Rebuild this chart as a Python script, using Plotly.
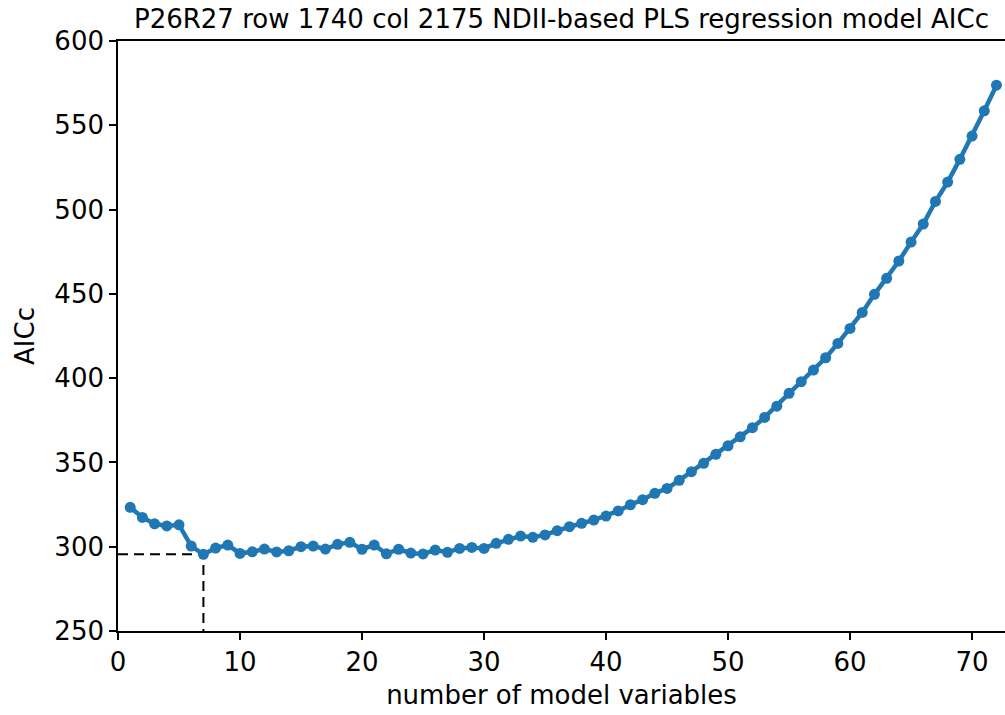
import plotly.graph_objects as go

# AICc of the PLS regression model versus number of retained variables
n_vars = list(range(1, 73))
aicc = [
    323.4, 317.4, 313.6, 312.3, 313.0, 300.4, 295.5, 299.2, 301.0, 296.0,
    297.0, 298.6, 296.9, 297.6, 300.0, 300.4, 298.6, 301.4, 302.6, 298.5,
    301.0, 295.8, 298.5, 296.2, 295.7, 298.0, 296.7, 299.0, 299.6, 299.0,
    302.0, 304.4, 306.3, 305.6, 307.0, 309.5, 311.9, 313.9, 315.8, 318.2,
    321.2, 324.9, 327.9, 331.7, 334.6, 339.4, 344.5, 349.5, 354.8, 359.9,
    365.2, 370.6, 376.7, 383.4, 391.0, 397.9, 404.8, 412.1, 420.6, 429.5,
    439.0, 449.7, 459.2, 469.5, 480.7, 491.4, 504.8, 516.3, 529.8, 543.6,
    558.6, 573.8,
]
selected_n = 7
x_ticks = [0, 10, 20, 30, 40, 50, 60, 70]
y_ticks = [250, 300, 350, 400, 450, 500, 550, 600]

x_range = [0, 72.7]
y_range = [250, 600]
selected_aicc = aicc[n_vars.index(selected_n)]

font_family = "DejaVu Sans"
blue = "#1f77b4"
fs = 26

fig = go.Figure()

# dashed guides marking the selected model size
fig.add_trace(go.Scatter(
    x=[x_range[0], selected_n, selected_n],
    y=[selected_aicc, selected_aicc, y_range[0]],
    mode="lines",
    line=dict(color="black", width=2, dash="10px,6px"),
    hoverinfo="skip",
    showlegend=False,
))

fig.add_trace(go.Scatter(
    x=n_vars,
    y=aicc,
    mode="lines+markers",
    line=dict(color=blue, width=4.5),
    marker=dict(color=blue, size=11),
    cliponaxis=False,
    showlegend=False,
))

fig.update_layout(
    width=1005,
    height=715,
    margin=dict(l=118, r=0, t=41, b=84),
    paper_bgcolor="white",
    plot_bgcolor="white",
    font=dict(family=font_family, size=fs, color="black"),
    title=dict(
        text="P26R27 row 1740 col 2175 NDII-based PLS regression model AICc",
        x=0.5, xref="paper", xanchor="center",
        y=1 - 19 / 715, yref="container", yanchor="middle",
        font=dict(family=font_family, size=fs, color="black"),
    ),
)

fig.update_xaxes(
    range=x_range,
    tickvals=x_ticks,
    ticks="outside", ticklen=7, tickwidth=1.6, tickcolor="black",
    showline=True, linecolor="black", linewidth=1.6, mirror=True,
    showgrid=False, zeroline=False,
    tickfont=dict(size=fs),
    title=dict(text="number of model variables", font=dict(size=fs), standoff=10),
)
fig.update_yaxes(
    range=y_range,
    tickvals=y_ticks,
    ticks="outside", ticklen=7, tickwidth=1.6, tickcolor="black",
    showline=True, linecolor="black", linewidth=1.6, mirror=False,
    showgrid=False, zeroline=False,
    tickfont=dict(size=fs),
    title=dict(text="AICc", font=dict(size=fs), standoff=12),
)

fig.write_html("out.html")
